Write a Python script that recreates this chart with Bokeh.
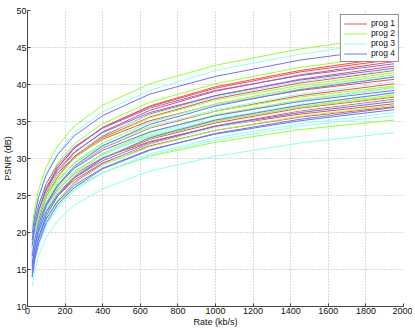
from bokeh.plotting import figure
from bokeh.models import Range1d, FixedTicker
from bokeh.embed import file_html
from bokeh.resources import INLINE

# ---------------- data ----------------
rate_kbps = [25, 40, 60, 100, 160, 250, 400, 650, 1000, 1450, 1950]

x_ticks = [0, 200, 400, 600, 800, 1000, 1200, 1400, 1600, 1800, 2000]
y_ticks = [10, 15, 20, 25, 30, 35, 40, 45, 50]

prog_names = ["prog 1", "prog 2", "prog 3", "prog 4"]

# prog 1 (red)
prog1_psnr = [
    [17.5, 20.3, 22.8, 25.8, 28.7, 31.4, 34.2, 37.1, 39.7, 41.9, 43.7],
    [18.0, 20.7, 23.1, 26.1, 28.8, 31.4, 34.2, 37.0, 39.5, 41.7, 43.4],
    [17.0, 19.8, 22.2, 25.3, 28.1, 30.8, 33.6, 36.5, 39.1, 41.3, 43.1],
    [16.5, 19.3, 21.7, 24.8, 27.6, 30.3, 33.0, 36.0, 38.5, 40.7, 42.5],
    [16.8, 19.5, 21.8, 24.8, 27.5, 30.1, 32.8, 35.6, 38.1, 40.2, 41.9],
    [18.5, 20.9, 23.0, 25.6, 28.0, 30.2, 32.6, 35.1, 37.3, 39.2, 40.7],
    [16.2, 18.8, 21.0, 23.8, 26.4, 28.8, 31.4, 34.1, 36.4, 38.5, 40.1],
    [15.5, 18.0, 20.1, 22.8, 25.2, 27.6, 30.0, 32.6, 34.8, 36.8, 38.3],
    [14.2, 16.8, 19.0, 21.8, 24.3, 26.8, 29.3, 32.0, 34.4, 36.4, 38.0],
    [17.2, 19.4, 21.3, 23.6, 25.8, 27.9, 30.1, 32.3, 34.3, 36.0, 37.4],
    [16.0, 18.3, 20.2, 22.7, 24.9, 27.1, 29.4, 31.7, 33.8, 35.6, 37.0],
]

# prog 2 (green)
prog2_psnr = [
    [20.7, 23.5, 25.9, 28.9, 31.7, 34.4, 37.2, 40.1, 42.6, 44.8, 46.6],
    [18.5, 21.3, 23.6, 26.6, 29.4, 32.0, 34.7, 37.6, 40.1, 42.3, 44.0],
    [17.2, 19.8, 22.1, 25.0, 27.6, 30.1, 32.7, 35.5, 37.9, 39.9, 41.6],
    [16.0, 18.7, 21.1, 24.0, 26.8, 29.4, 32.1, 34.9, 37.4, 39.6, 41.3],
    [17.8, 20.2, 22.2, 24.8, 27.2, 29.4, 31.8, 34.3, 36.4, 38.3, 39.8],
    [15.2, 17.8, 20.1, 23.0, 25.6, 28.1, 30.7, 33.5, 35.9, 37.9, 39.6],
    [15.0, 17.5, 19.7, 22.5, 25.1, 27.5, 30.0, 32.7, 35.0, 37.0, 38.6],
    [17.0, 19.3, 21.3, 23.8, 26.1, 28.3, 30.6, 33.0, 35.1, 36.9, 38.4],
    [14.8, 17.2, 19.3, 21.9, 24.3, 26.7, 29.1, 31.6, 33.8, 35.7, 37.2],
    [15.8, 17.9, 19.7, 22.0, 24.1, 26.1, 28.1, 30.3, 32.2, 33.9, 35.2],
]

# prog 3 (cyan)
prog3_psnr = [
    [19.5, 22.4, 24.8, 27.9, 30.7, 33.5, 36.3, 39.2, 41.9, 44.1, 45.9],
    [17.8, 20.4, 22.7, 25.5, 28.1, 30.6, 33.2, 35.9, 38.3, 40.4, 42.0],
    [16.5, 19.2, 21.4, 24.3, 27.0, 29.5, 32.1, 34.9, 37.3, 39.4, 41.1],
    [15.8, 18.5, 20.7, 23.6, 26.3, 28.8, 31.5, 34.2, 36.6, 38.7, 40.4],
    [14.8, 17.5, 19.8, 22.7, 25.3, 27.9, 30.5, 33.3, 35.7, 37.8, 39.5],
    [16.0, 18.5, 20.6, 23.3, 25.7, 28.1, 30.5, 33.1, 35.3, 37.3, 38.8],
    [14.0, 16.6, 18.8, 21.6, 24.2, 26.6, 29.2, 31.9, 34.2, 36.3, 37.9],
    [13.8, 16.2, 18.3, 20.9, 23.3, 25.7, 28.1, 30.6, 32.8, 34.7, 36.2],
    [14.5, 16.8, 18.8, 21.3, 23.6, 25.8, 28.1, 30.4, 32.5, 34.4, 35.8],
    [12.7, 14.9, 16.9, 19.3, 21.6, 23.7, 25.9, 28.3, 30.3, 32.1, 33.5],
]

# prog 4 (blue)
prog4_psnr = [
    [19.8, 22.5, 24.9, 27.8, 30.5, 33.1, 35.8, 38.7, 41.1, 43.3, 45.0],
    [19.0, 21.6, 23.8, 26.6, 29.1, 31.6, 34.1, 36.8, 39.2, 41.2, 42.8],
    [18.2, 20.8, 23.0, 25.8, 28.4, 30.9, 33.5, 36.2, 38.5, 40.6, 42.2],
    [15.5, 18.3, 20.6, 23.6, 26.4, 29.0, 31.7, 34.6, 37.1, 39.3, 41.0],
    [16.8, 19.2, 21.3, 23.9, 26.3, 28.7, 31.1, 33.6, 35.8, 37.7, 39.2],
    [14.5, 17.1, 19.4, 22.3, 24.9, 27.4, 30.0, 32.8, 35.2, 37.2, 38.9],
    [15.8, 18.2, 20.2, 22.8, 25.1, 27.4, 29.7, 32.2, 34.4, 36.2, 37.7],
    [14.0, 16.5, 18.6, 21.3, 23.8, 26.1, 28.6, 31.1, 33.4, 35.3, 36.9],
    [15.0, 17.3, 19.3, 21.9, 24.2, 26.4, 28.7, 31.2, 33.3, 35.1, 36.6],
]

# ---------------- styles ----------------
prog_colors = ["#ff4848", "#95ff35", "#90fff0", "#7070ff"]
FONT = "Liberation Sans"

p = figure(
    width=412, height=330,
    output_backend="svg", toolbar_location=None,
    x_range=Range1d(0, 2000), y_range=Range1d(10, 50),
    min_border_left=27, min_border_right=9,
    min_border_top=10, min_border_bottom=24,
)
p.title.visible = False
p.outline_line_color = None
p.background_fill_color = "white"
p.border_fill_color = "white"

for psnr, color, name in zip([prog1_psnr, prog2_psnr, prog3_psnr, prog4_psnr],
                             prog_colors, prog_names):
    p.multi_line(xs=[rate_kbps] * len(psnr), ys=psnr,
                 line_color=color, line_width=1, legend_label=name)

# axes
p.xaxis.ticker = FixedTicker(ticks=x_ticks)
p.yaxis.ticker = FixedTicker(ticks=y_ticks)
for ax in (p.xaxis, p.yaxis):
    ax.axis_line_color = "#444444"
    ax.axis_line_width = 1
    ax.major_tick_line_color = "#444444"
    ax.major_tick_in = 3
    ax.major_tick_out = 0
    ax.minor_tick_line_color = None
    ax.major_label_text_font = FONT
    ax.major_label_text_font_size = "9px"
    ax.major_label_text_color = "#111111"
    ax.axis_label_text_font = FONT
    ax.axis_label_text_font_size = "9px"
    ax.axis_label_text_font_style = "normal"
    ax.axis_label_text_color = "#111111"
p.xaxis.major_label_standoff = 1
p.yaxis.major_label_standoff = 1
p.xaxis.axis_label = "Rate (kb/s)"
p.yaxis.axis_label = "PSNR (dB)"
p.xaxis.axis_label_standoff = 0
p.yaxis.axis_label_standoff = 0

# grid
for g in (p.xgrid, p.ygrid):
    g.grid_line_color = "#b4b4b4"
    g.grid_line_dash = "1 2"
    g.grid_line_width = 1

# legend
lg = p.legend[0]
lg.location = "top_right"
lg.margin = 4
lg.padding = 3
lg.spacing = 0
lg.glyph_width = 23
lg.glyph_height = 9
lg.label_height = 9
lg.label_standoff = 4
lg.label_text_font = FONT
lg.label_text_font_size = "8.5px"
lg.label_text_color = "#111111"
lg.border_line_color = "#222222"
lg.border_line_width = 1
lg.background_fill_alpha = 1.0

open("out.html", "w").write(file_html(p, INLINE))
